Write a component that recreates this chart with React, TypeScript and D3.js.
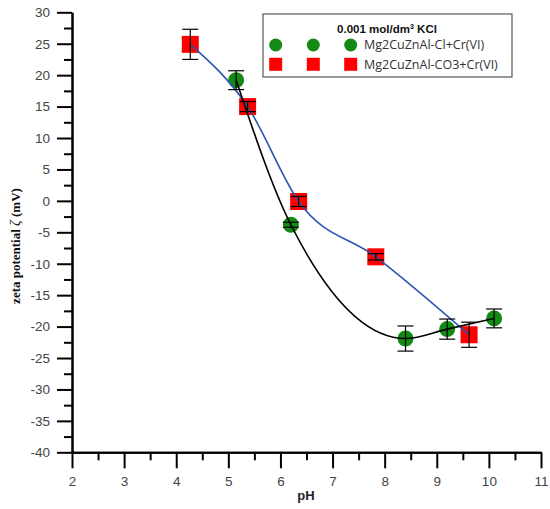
import { useEffect, useRef } from 'react';
import * as d3 from 'd3';

// Mg2CuZnAl-Cl+Cr(VI)
const clPH = [5.15, 6.2, 8.4, 9.2, 10.1];
const clZeta = [19.2, -3.8, -21.9, -20.4, -18.7];
const clErr = [1.5, 0.4, 2.0, 1.6, 1.5];

// Mg2CuZnAl-CO3+Cr(VI)
const co3PH = [4.27, 5.37, 6.35, 7.83, 9.62];
const co3Zeta = [24.9, 15.0, -0.1, -8.9, -21.3];
const co3Err = [2.4, 0.8, 0.8, 0.5, 2.0];

const xTicks = [2, 3, 4, 5, 6, 7, 8, 9, 10, 11];
const xMinor = [2.5, 3.5, 4.5, 5.5, 6.5, 7.5, 8.5, 9.5, 10.5];
const yTicks = [-40, -35, -30, -25, -20, -15, -10, -5, 0, 5, 10, 15, 20, 25, 30];
const yMinor = [-37.5, -32.5, -27.5, -22.5, -17.5, -12.5, -7.5, -2.5, 2.5, 7.5, 12.5, 17.5, 22.5, 27.5];

const legendTitle = '0.001 mol/dm';
const seriesNames = ['Mg2CuZnAl-Cl+Cr(VI)', 'Mg2CuZnAl-CO3+Cr(VI)'];

type Pt = { x: number; y: number; e: number };

const App = () => {
  const svgRef = useRef<SVGSVGElement>(null);

  useEffect(() => {
    if (!svgRef.current) return;
    document.body.style.margin = '0';
    const svg = d3.select(svgRef.current);
    svg.selectAll('*').remove();

    const x = d3.scaleLinear().domain([2, 11]).range([72, 541]);
    const y = d3.scaleLinear().domain([-40, 30]).range([452.3, 12.3]);

    const cl: Pt[] = clPH.map((p, i) => ({ x: p, y: clZeta[i], e: clErr[i] }));
    const co3: Pt[] = co3PH.map((p, i) => ({ x: p, y: co3Zeta[i], e: co3Err[i] }));

    const sans = '"Liberation Sans", Arial, sans-serif';
    const plain = (d: d3.NumberValue) => String(d);

    // axes
    const yAxis = svg.append('g')
      .attr('transform', `translate(${x(2)},0)`)
      .call(d3.axisLeft(y).tickValues(yTicks).tickFormat(plain).tickSize(15).tickSizeOuter(0).tickPadding(7));
    svg.append('g')
      .attr('transform', `translate(${x(2)},0)`)
      .call(d3.axisLeft(y).tickValues(yMinor).tickSize(8).tickSizeOuter(0).tickFormat(() => ''));

    const xAxis = svg.append('g')
      .attr('transform', `translate(0,${y(-40)})`)
      .call(d3.axisBottom(x).tickValues(xTicks).tickFormat(plain).tickSize(16).tickSizeOuter(0).tickPadding(8));
    svg.append('g')
      .attr('transform', `translate(0,${y(-40)})`)
      .call(d3.axisBottom(x).tickValues(xMinor).tickSize(8).tickSizeOuter(0).tickFormat(() => ''));

    svg.selectAll('.domain').attr('stroke', '#000').attr('stroke-width', 2);
    svg.selectAll('.tick line').attr('stroke', '#000').attr('stroke-width', 2);
    [yAxis, xAxis].forEach(a => a.selectAll('text')
      .attr('fill', '#444')
      .style('font-family', sans)
      .style('font-size', '13.5px'));

    // axis titles
    const yl = svg.append('text')
      .attr('transform', `translate(20,246) rotate(-90)`)
      .attr('text-anchor', 'middle')
      .style('font-family', '"Liberation Serif", "Times New Roman", serif')
      .style('font-size', '13px')
      .style('font-weight', 'bold')
      .attr('fill', '#111');
    yl.append('tspan').text('zeta potential ');
    yl.append('tspan').style('font-style', 'italic').style('font-weight', 'normal').style('font-size', '14px').text('ζ');
    yl.append('tspan').text(' (mV)');

    svg.append('text')
      .attr('x', 306)
      .attr('y', 500)
      .attr('text-anchor', 'middle')
      .style('font-family', sans)
      .style('font-size', '13px')
      .style('font-weight', 'bold')
      .attr('fill', '#222')
      .text('pH');

    // markers
    svg.append('g').selectAll('circle').data(cl).enter().append('circle')
      .attr('cx', d => x(d.x)).attr('cy', d => y(d.y)).attr('r', 8)
      .attr('fill', '#138a13');
    svg.append('g').selectAll('rect').data(co3).enter().append('rect')
      .attr('x', d => x(d.x) - 8.5).attr('y', d => y(d.y) - 8.5)
      .attr('width', 17).attr('height', 17)
      .attr('fill', '#ff0000');

    // fitted curves
    const line = d3.line<Pt>().x(d => x(d.x)).y(d => y(d.y)).curve(d3.curveMonotoneX);
    svg.append('path').datum(co3).attr('d', line).attr('fill', 'none')
      .attr('stroke', '#2a55b0').attr('stroke-width', 1.6);
    svg.append('path').datum(cl).attr('d', line).attr('fill', 'none')
      .attr('stroke', '#000').attr('stroke-width', 1.6);

    // error bars
    const bars = svg.append('g').attr('stroke', '#000').attr('stroke-width', 1.2);
    [...cl, ...co3].forEach(d => {
      const cx = x(d.x);
      const y1 = y(d.y + d.e);
      const y2 = y(d.y - d.e);
      bars.append('line').attr('x1', cx).attr('x2', cx).attr('y1', y1).attr('y2', y2);
      bars.append('line').attr('x1', cx - 8).attr('x2', cx + 8).attr('y1', y1).attr('y2', y1);
      bars.append('line').attr('x1', cx - 8).attr('x2', cx + 8).attr('y1', y2).attr('y2', y2);
    });

    // legend
    const lg = svg.append('g');
    lg.append('rect').attr('x', 263).attr('y', 14).attr('width', 249).attr('height', 63)
      .attr('fill', '#fff').attr('stroke', '#555').attr('stroke-width', 1.2);
    const lt = lg.append('text').attr('x', 387).attr('y', 33).attr('text-anchor', 'middle')
      .style('font-family', sans).style('font-size', '11.5px').style('font-weight', 'bold')
      .attr('fill', '#111');
    lt.append('tspan').text(legendTitle);
    lt.append('tspan').attr('dy', -4).style('font-size', '7px').text('3');
    lt.append('tspan').attr('dy', 4).text(' KCl');
    const markX = [275.7, 313.3, 350.7];
    const rowY = [45, 64.3];
    markX.forEach(mx => {
      lg.append('circle').attr('cx', mx).attr('cy', rowY[0]).attr('r', 6.5).attr('fill', '#138a13');
      lg.append('rect').attr('x', mx - 6.5).attr('y', rowY[1] - 6.5).attr('width', 13).attr('height', 13)
        .attr('fill', '#ff0000');
    });
    seriesNames.forEach((name, i) => {
      lg.append('text').attr('x', 364).attr('y', rowY[i]).attr('dy', '0.35em')
        .style('font-family', '"Open Sans", sans-serif').style('font-size', '12.5px')
        .attr('fill', '#333').text(name);
    });
  }, []);

  return <svg ref={svgRef} width={550} height={509} style={{ display: 'block', background: '#fff' }} />;
};

export default App;
